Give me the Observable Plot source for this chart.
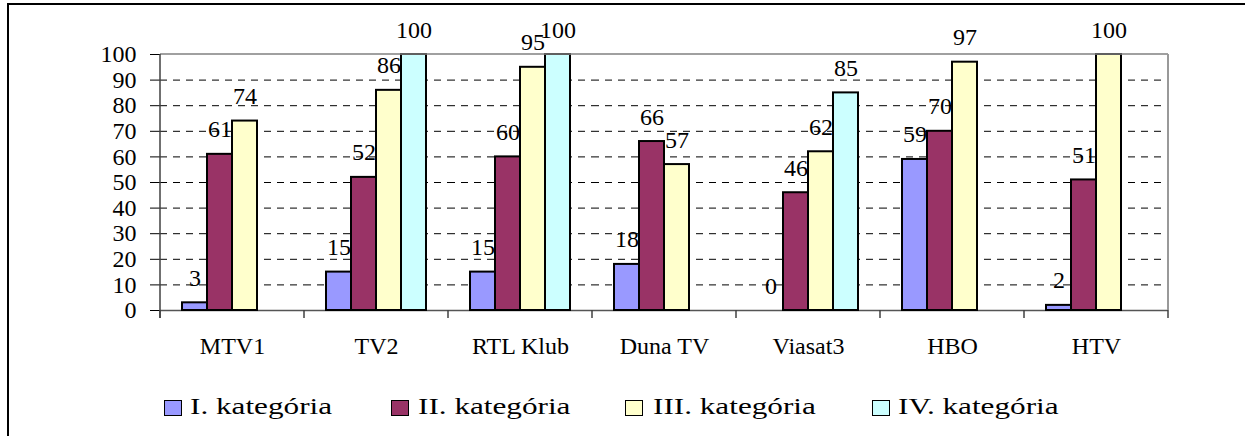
<!DOCTYPE html>
<html>
<head>
<meta charset="utf-8">
<script src="https://cdn.jsdelivr.net/npm/d3@7"></script>
<script src="https://cdn.jsdelivr.net/npm/@observablehq/plot@0.6"></script>
<style>
  html, body { margin: 0; padding: 0; background: #fff; }
  body { width: 1245px; height: 436px; position: relative; overflow: hidden;
         font-family: "Liberation Serif", "Times New Roman", serif; }
  #box { position: absolute; left: 7px; top: 3px; width: 1400px; height: 600px;
         border: 2.5px solid #000; box-sizing: border-box; }
  #chart { position: absolute; left: 0; top: 0; }
  #chart svg { overflow: visible; }
  .sw { position: absolute; top: 400px; width: 18px; height: 16px; box-sizing: border-box;
        border: 1.5px solid #000; }
  .lab { position: absolute; top: 394px; font-size: 24px; line-height: 24px; white-space: nowrap;
         color: #000; transform: scaleX(1.3); transform-origin: 0 50%; }
</style>
</head>
<body>
<div id="box"></div>
<div id="chart"></div>
<div id="legend"></div>
<script>
// ---- data ----
const channels = ["MTV1", "TV2", "RTL Klub", "Duna TV", "Viasat3", "HBO", "HTV"];
const categories = ["I. kategória", "II. kategória", "III. kategória", "IV. kategória"];
const cat1 = [3, 15, 15, 18, 0, 59, 2];
const cat2 = [61, 52, 60, 66, 46, 70, 51];
const cat3 = [74, 86, 95, 57, 62, 97, 100];
const cat4 = [null, 100, 100, null, 85, null, null];
const colors = ["#9999FF", "#993366", "#FFFFCC", "#CCFFFF"];
const yTicks = [0, 10, 20, 30, 40, 50, 60, 70, 80, 90, 100];

const series = [cat1, cat2, cat3, cat4];
const rows = [];
channels.forEach((ch, i) => {
  series.forEach((s, j) => {
    if (s[i] != null) rows.push({channel: ch, cat: categories[j], value: s[i]});
  });
});

const plot = Plot.plot({
  width: 1245,
  height: 365,
  marginLeft: 160,
  marginRight: 77,
  marginTop: 54,
  marginBottom: 55,
  style: {fontFamily: '"Liberation Serif", "Times New Roman", serif', fontSize: "24px", background: "transparent", color: "#000"},
  fx: {domain: channels, padding: 0, label: null},
  x: {domain: categories, paddingInner: 0, paddingOuter: 0.77, axis: null},
  y: {domain: [0, 100], label: null},
  color: {domain: categories, range: colors},
  marks: [
    Plot.gridY(yTicks.filter(t => t > 0 && t < 100), {stroke: "#000", strokeOpacity: 1, strokeWidth: 1, strokeDasharray: "7,6"}),
    Plot.axisY(yTicks, {anchor: "left", tickSize: 10, tickPadding: 14, fontSize: 24, stroke: "#000", label: null}),
    Plot.axisFx({anchor: "bottom", tickSize: 0, tickPadding: 26, fontSize: 24, label: null}),
    Plot.ruleY([0], {stroke: "#555", strokeWidth: 1.5}),
    Plot.barY(rows, {fx: "channel", x: "cat", y: "value", fill: "cat", stroke: "#000", strokeWidth: 2}),
    Plot.text(rows, {fx: "channel", x: "cat", y: "value", text: d => String(d.value), dy: -17, lineAnchor: "bottom", fontSize: 24, fill: "#000"})
  ]
});
document.getElementById("chart").appendChild(plot);

// plot-area border, axis line and category boundary ticks from the plot's own scales
const svgEl = plot.tagName.toLowerCase() === "svg" ? plot : plot.querySelector("svg");
const svg = d3.select(svgEl);
const fxs = plot.scale("fx"), ys = plot.scale("y");
const fxBand = d3.scaleBand().domain(fxs.domain).range(fxs.range)
  .paddingInner(fxs.paddingInner ?? 0).paddingOuter(fxs.paddingOuter ?? 0).align(fxs.align ?? 0.5);
const x0 = fxs.range[0], x1 = fxs.range[1];
const yTop = ys.apply ? ys.apply(100) : d3.scaleLinear(ys.domain, ys.range)(100);
const yBot = ys.apply ? ys.apply(0) : d3.scaleLinear(ys.domain, ys.range)(0);
const g = svg.append("g");
g.append("line").attr("x1", x0).attr("x2", x1).attr("y1", yTop).attr("y2", yTop)
  .attr("stroke", "#808080").attr("stroke-width", 1.5);
g.append("line").attr("x1", x1).attr("x2", x1).attr("y1", yTop).attr("y2", yBot)
  .attr("stroke", "#999").attr("stroke-width", 2);
g.append("line").attr("x1", x0).attr("x2", x0).attr("y1", yTop).attr("y2", yBot + 8)
  .attr("stroke", "#404040").attr("stroke-width", 1.5);
const bounds = fxs.domain.map(d => fxBand(d)).concat([x1]);
g.selectAll("line.b").data(bounds).join("line").attr("class", "b")
  .attr("x1", d => d).attr("x2", d => d).attr("y1", yBot).attr("y2", yBot + 8)
  .attr("stroke", "#404040").attr("stroke-width", 1.5);

// legend
const swX = [164, 391, 625, 872];
const labX = [190, 418, 653, 898];
const legend = document.getElementById("legend");
categories.forEach((c, i) => {
  const sw = document.createElement("div");
  sw.className = "sw"; sw.style.left = swX[i] + "px"; sw.style.background = colors[i];
  const lab = document.createElement("div");
  lab.className = "lab"; lab.style.left = labX[i] + "px"; lab.textContent = c;
  legend.appendChild(sw); legend.appendChild(lab);
});
</script>
</body>
</html>
